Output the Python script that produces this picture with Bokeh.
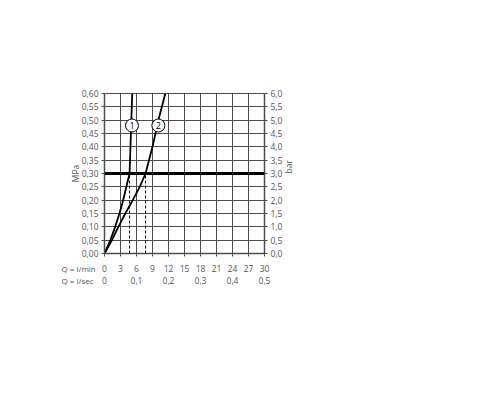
from bokeh.plotting import figure
from bokeh.models import Range1d, LinearAxis, FixedTicker, Span, Label, Title
from bokeh.embed import file_html
from bokeh.resources import INLINE

# ---- data ----
q_ticks = [0, 3, 6, 9, 12, 15, 18, 21, 24, 27, 30]
q_labels = ["0", "3", "6", "9", "12", "15", "18", "21", "24", "27", "30"]
qs_ticks = [0, 6, 12, 18, 24, 30]
qs_labels = ["0", "0,1", "0,2", "0,3", "0,4", "0,5"]
mpa_ticks = [0.0, 0.05, 0.10, 0.15, 0.20, 0.25, 0.30, 0.35, 0.40, 0.45, 0.50, 0.55, 0.60]
mpa_labels = ["0,00", "0,05", "0,10", "0,15", "0,20", "0,25", "0,30", "0,35", "0,40",
              "0,45", "0,50", "0,55", "0,60"]
bar_ticks = [0.0, 0.5, 1.0, 1.5, 2.0, 2.5, 3.0, 3.5, 4.0, 4.5, 5.0, 5.5, 6.0]
bar_labels = ["0,0", "0,5", "1,0", "1,5", "2,0", "2,5", "3,0", "3,5", "4,0",
              "4,5", "5,0", "5,5", "6,0"]
row_titles = ["Q = l/min", "Q = l/sec"]

curve1_q = [0, 1.1, 2.0, 2.8, 3.5, 4.1, 4.7, 4.95, 5.2]
curve1_p = [0, 0.05, 0.10, 0.15, 0.20, 0.25, 0.30, 0.45, 0.60]
curve2_q = [0, 1.4, 2.6, 3.9, 5.3, 6.6, 7.7, 9.0, 10.1, 11.4]
curve2_p = [0, 0.05, 0.10, 0.15, 0.20, 0.25, 0.30, 0.40, 0.50, 0.60]

ref_pressure = 0.30
dash_q = [4.7, 7.7]
tag_names = ["1", "2"]
tag_q = [5.15, 10.1]
tag_p = [0.48, 0.48]

FONT = "Open Sans"
TXT = "#555555"
GRID = "#4d4d4d"

p = figure(frame_width=160, frame_height=160,
           x_range=Range1d(0, 30), y_range=Range1d(0, 0.6),
           output_backend="svg", toolbar_location=None,
           min_border_left=104, min_border_top=93, min_border_right=40,
           min_border_bottom=40, outline_line_color=GRID,
           background_fill_color="white")

# main bottom axis (l/min)
xa = p.xaxis[0]
xa.ticker = FixedTicker(ticks=q_ticks)
xa.major_label_overrides = {t: l for t, l in zip(q_ticks, q_labels)}
# left axis (MPa)
ya = p.yaxis[0]
ya.ticker = FixedTicker(ticks=mpa_ticks)
ya.major_label_overrides = {t: l for t, l in zip(mpa_ticks, mpa_labels)}
ya.axis_label = "MPa"

# right axis (bar)
p.extra_y_ranges = {"bar": Range1d(0, 6)}
ra = LinearAxis(y_range_name="bar", ticker=FixedTicker(ticks=bar_ticks),
                major_label_overrides={t: l for t, l in zip(bar_ticks, bar_labels)},
                axis_label="bar")
p.add_layout(ra, "right")
if "axis_label_orientation" in ra.properties():
    ra.axis_label_orientation = 1.5707963267948966


def row_title(text):
    # left-aligned title placed left of the frame, lifted onto the row of the axis above it
    return Title(text=text, align="left", offset=-43, vertical_align="top",
                 standoff=-24, text_font=FONT, text_font_size="8px",
                 text_font_style="normal", text_color=TXT)


p.add_layout(row_title(row_titles[0]), "below")

# second bottom axis (l/sec)
sa = LinearAxis(ticker=FixedTicker(ticks=qs_ticks),
                major_label_overrides={t: l for t, l in zip(qs_ticks, qs_labels)})
p.add_layout(sa, "below")

p.add_layout(row_title(row_titles[1]), "below")

for ax in [xa, ya, ra, sa]:
    ax.axis_line_color = GRID
    ax.axis_line_width = 1.5
    ax.major_tick_line_color = GRID
    ax.major_tick_in = 0
    ax.major_tick_out = 3
    ax.minor_tick_line_color = None
    ax.major_label_text_font = FONT
    ax.major_label_text_font_size = "8.5px"
    ax.major_label_text_color = TXT
    ax.major_label_standoff = 3
    ax.axis_label_text_font = FONT
    ax.axis_label_text_font_size = "8.5px"
    ax.axis_label_text_font_style = "normal"
    ax.axis_label_text_color = TXT
    ax.axis_label_standoff = 3
ya.axis_label_standoff = -2
xa.major_label_standoff = 8
sa.axis_line_color = None
sa.major_tick_line_color = None
sa.major_tick_out = 0
sa.minor_tick_out = 0
sa.major_label_standoff = 2

p.xgrid.ticker = FixedTicker(ticks=q_ticks)
p.ygrid.ticker = FixedTicker(ticks=mpa_ticks)
for g in [p.xgrid[0], p.ygrid[0]]:
    g.grid_line_color = GRID
    g.grid_line_width = 1
    g.grid_line_alpha = 1

# thick reference line at 3 bar
p.add_layout(Span(location=ref_pressure, dimension="width", line_color="black", line_width=3))

# dashed drop lines
for dq in dash_q:
    p.line([dq, dq], [0, ref_pressure], line_color="black", line_width=1, line_dash="3 2")

# curves
p.line(curve1_q, curve1_p, line_color="black", line_width=1.8)
p.line(curve2_q, curve2_p, line_color="black", line_width=1.8)

# circled tags
p.scatter(tag_q, tag_p, marker="circle", size=13, fill_color="white",
          line_color="black", line_width=1)
for n, tq, tp in zip(tag_names, tag_q, tag_p):
    p.add_layout(Label(x=tq, y=tp, text=n, text_align="center", text_baseline="middle",
                       text_font=FONT, text_font_size="9px", text_color="black"))

open("out.html", "w").write(file_html(p, INLINE))
